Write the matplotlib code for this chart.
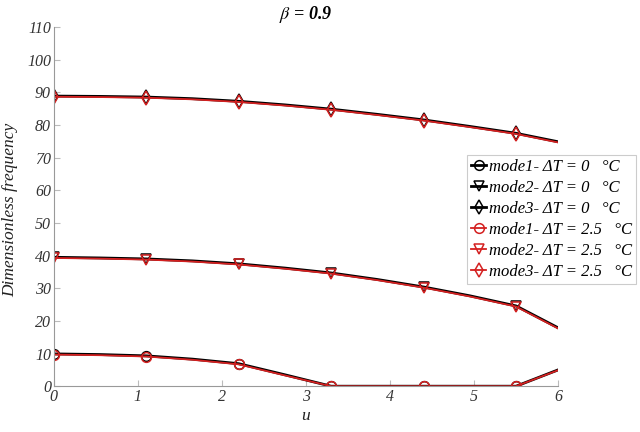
import matplotlib
matplotlib.use('Agg')
import matplotlib.pyplot as plt

# sample points along u (markers every 1.1, curve runs to 6)
u = [0, 0.55, 1.1, 1.65, 2.2, 2.75, 3.3, 3.85, 4.4, 4.95, 5.5, 6.0]

mode1_dt0 = [9.9, 9.7, 9.3, 8.3, 6.9, 3.5, 0.0, 0.0, 0.0, 0.0, 0.0, 5.0]
mode2_dt0 = [39.5, 39.3, 39.0, 38.4, 37.5, 36.2, 34.7, 32.7, 30.4, 27.7, 24.6, 17.9]
mode3_dt0 = [88.9, 88.8, 88.6, 88.1, 87.3, 86.2, 84.9, 83.3, 81.6, 79.6, 77.5, 74.9]

mode1_dt25 = [9.7, 9.5, 9.1, 8.1, 6.7, 3.3, 0.0, 0.0, 0.0, 0.0, 0.0, 4.9]
mode2_dt25 = [39.3, 39.1, 38.8, 38.2, 37.3, 36.0, 34.5, 32.5, 30.2, 27.5, 24.4, 17.7]
mode3_dt25 = [88.7, 88.6, 88.4, 87.9, 87.1, 86.0, 84.7, 83.1, 81.4, 79.4, 77.3, 74.7]

x_ticks = [0, 1, 2, 3, 4, 5, 6]
y_ticks = [0, 10, 20, 30, 40, 50, 60, 70, 80, 90, 100, 110]

plt.rcParams['font.family'] = ['Liberation Serif', 'DejaVu Serif']
plt.rcParams['font.style'] = 'italic'
plt.rcParams['mathtext.fontset'] = 'stix'

fig = plt.figure(figsize=(6.4, 4.32), dpi=100)
ax = fig.add_axes([0.084, 0.106, 0.788, 0.831])

marks = slice(0, 11, 2)
mk = dict(markersize=7, markerfacecolor='none', markevery=marks, markeredgewidth=1.1)

ax.plot(u, mode1_dt0, color='black', marker='o', lw=2.0, label='mode1- ΔT = 0   °C', **mk)
ax.plot(u, mode2_dt0, color='black', marker='v', lw=2.0, label='mode2- ΔT = 0   °C', **mk)
ax.plot(u, mode3_dt0, color='black', marker='d', lw=2.0, label='mode3- ΔT = 0   °C', **mk)
ax.plot(u, mode1_dt25, color='#d42020', marker='o', lw=1.3, label='mode1- ΔT = 2.5   °C', **mk)
ax.plot(u, mode2_dt25, color='#d42020', marker='v', lw=1.3, label='mode2- ΔT = 2.5   °C', **mk)
ax.plot(u, mode3_dt25, color='#d42020', marker='d', lw=1.3, label='mode3- ΔT = 2.5   °C', **mk)

ax.set_xlim(0, 6)
ax.set_ylim(0, 110)
ax.set_xticks(x_ticks)
ax.set_yticks(y_ticks)
ax.tick_params(direction='in', length=4, color='#bbbbbb', labelsize=11.5,
               labelcolor='#333333', pad=2)
for s in ['top', 'right']:
    ax.spines[s].set_visible(False)
for s in ['left', 'bottom']:
    ax.spines[s].set_color('#999999')
    ax.spines[s].set_linewidth(0.8)

ax.set_xlabel('u', fontsize=12.5, labelpad=2, color='#222222')
ax.set_ylabel('Dimensionless frequency', fontsize=12.5, labelpad=8, color='#222222')
ax.yaxis.set_label_coords(-0.07, 0.49)
fig.text(0.477, 0.967, r'$\beta$ = 0.9', ha='center', va='center',
         fontsize=13, fontweight='bold')

leg = ax.legend(loc='upper left', bbox_to_anchor=(467 / 640, 1 - 155 / 432),
                bbox_transform=fig.transFigure, fontsize=12, handlelength=0.9,
                handletextpad=0.15, labelspacing=0.3, borderpad=0.25,
                borderaxespad=0, fancybox=False, framealpha=1)
leg.get_frame().set_edgecolor('#cccccc')
leg.get_frame().set_linewidth(0.8)

fig.savefig('out.png', dpi=100)
